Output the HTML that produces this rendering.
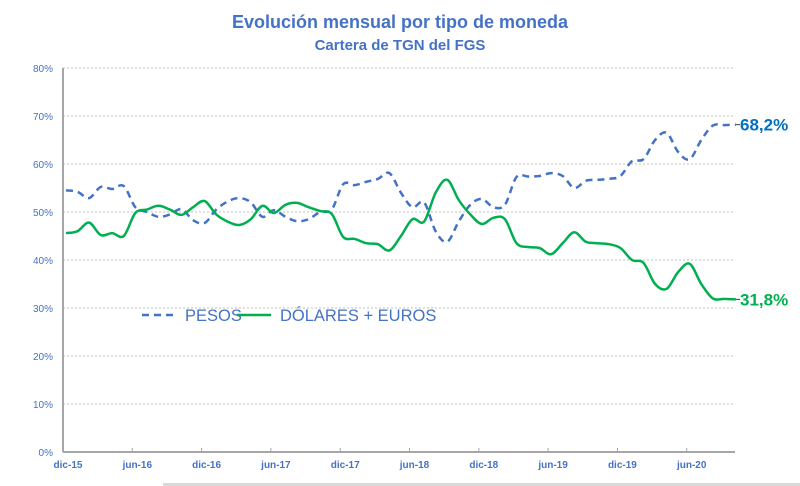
<!DOCTYPE html>
<html><head><meta charset="utf-8"><style>
body{margin:0;background:#fff;}
svg{display:block;font-family:"Liberation Sans",Arial,sans-serif;}
</style></head><body>
<svg id="chart" width="800" height="486">
<text x="400" y="28" text-anchor="middle" font-size="18" font-weight="bold" fill="#4472c4">Evolución mensual por tipo de moneda</text>
<text x="400" y="50" text-anchor="middle" font-size="15" font-weight="bold" fill="#4472c4">Cartera de TGN del FGS</text>
<g id="grid"></g>
<g id="axes"></g>
<g id="series"></g>
<g>
<line x1="142" y1="315" x2="176" y2="315" stroke="#4472c4" stroke-width="2.5" stroke-dasharray="7,5"/>
<text x="185" y="321" font-size="16.5" fill="#4472c4">PESOS</text>
<line x1="237" y1="315" x2="271" y2="315" stroke="#00b050" stroke-width="2.5"/>
<text x="280" y="321" font-size="16.5" fill="#4472c4">DÓLARES + EUROS</text>
</g>
<rect x="163" y="483" width="637" height="3" fill="#d9d9d9"/>
</svg>
<script>
const tickLabels=["dic-15","jun-16","dic-16","jun-17","dic-17","jun-18","dic-18","jun-19","dic-19","jun-20"];
const yTicks=[0,10,20,30,40,50,60,70,80];
const pesos=[54.5,54.2,52.9,55.2,54.8,55.4,51,50,49,49.5,50.6,48.3,47.7,50.5,52.2,52.9,52,49,50.4,49,48.1,48.5,50,50.5,55.8,55.6,56.3,56.9,58.1,54,51,52,46,43.8,48,51.5,52.7,51,51.5,57.3,57.4,57.5,58.1,57.5,55,56.5,56.7,56.9,57.5,60.6,61,65,66.5,62.5,61,65,68,68.1,68.2];
const dolares=[45.6,46,47.8,45.2,45.6,45,49.8,50.5,51.3,50.5,49.4,51,52.3,49.5,48,47.3,48.5,51.3,49.8,51.5,51.9,51,50.2,49.6,44.8,44.4,43.5,43.3,42,45,48.5,48,54,56.7,52.5,49.5,47.5,48.8,48.5,43.5,42.7,42.5,41.2,43.5,45.8,43.8,43.5,43.3,42.5,40,39.4,35,34,37.5,39.2,35,32,31.9,31.8];
const finalLabels=["68,2%","31,8%"];
const NS="http://www.w3.org/2000/svg";
const X0=63,MW=11.55,Y0=452,YS=4.8;
const xs=i=>X0+3+i*MW;
const ys=v=>Y0-v*YS;
function mk(t,a,p){const e=document.createElementNS(NS,t);for(const k in a)e.setAttribute(k,a[k]);p.appendChild(e);return e;}
const grid=document.getElementById('grid'),axes=document.getElementById('axes'),ser=document.getElementById('series');
yTicks.forEach(v=>{
 if(v>0){const l=mk('line',{x1:X0,x2:735,y1:ys(v),y2:ys(v),stroke:'#bfbfbf','stroke-width':1,'stroke-dasharray':'2,2'},grid);
 
 }
 const t=mk('text',{x:53,y:ys(v)+4,'text-anchor':'end','font-size':10,fill:'#4472c4'},axes);
 t.textContent=v+'%';
 
 
});
const ya=mk('line',{x1:X0,x2:X0,y1:ys(80),y2:Y0,stroke:'#a6a6a6','stroke-width':2},axes);


const xa=mk('line',{x1:X0,x2:735,y1:Y0,y2:Y0,stroke:'#a6a6a6','stroke-width':2},axes);


tickLabels.forEach((s,k)=>{
 const x=X0+k*6*MW;
 const tk=mk('line',{x1:x,x2:x,y1:Y0,y2:Y0-4,stroke:'#a6a6a6','stroke-width':1},axes);
 
 
 const t=mk('text',{x:x+5,y:468,'text-anchor':'middle','font-size':10,'font-weight':'bold',fill:'#4472c4'},axes);
 t.textContent=s;
 
 
});
function smooth(vals){
 const p=vals.map((v,i)=>[xs(i),ys(v)]);let d='M'+p[0][0]+','+p[0][1];
 for(let i=0;i<p.length-1;i++){const p0=p[i-1]||p[i],p1=p[i],p2=p[i+1],p3=p[i+2]||p2;
 const c1=[p1[0]+(p2[0]-p0[0])/6,p1[1]+(p2[1]-p0[1])/6],c2=[p2[0]-(p3[0]-p1[0])/6,p2[1]-(p3[1]-p1[1])/6];
 d+=' C'+c1[0].toFixed(1)+','+c1[1].toFixed(1)+' '+c2[0].toFixed(1)+','+c2[1].toFixed(1)+' '+p2[0].toFixed(1)+','+p2[1].toFixed(1);}
 return d;}
const lp=mk('path',{d:smooth(pesos),fill:'none',stroke:'#4472c4','stroke-width':2.5,'stroke-dasharray':'7,5'},ser);


const ld=mk('path',{d:smooth(dolares),fill:'none',stroke:'#00b050','stroke-width':2.5},ser);


[[pesos,'#0070c0','pesos-final-label'],[dolares,'#00b050','dolares-final-label']].forEach((a,k)=>{
 const v=a[0][a[0].length-1],y=ys(v),xe=xs(a[0].length-1);
 const c=mk('line',{x1:xe,x2:740,y1:y,y2:y,stroke:'#404040','stroke-width':1},ser);
 
 
 const t=mk('text',{x:740,y:y+6,'font-size':17,'font-weight':'bold',fill:a[1]},ser);
 t.textContent=finalLabels[k];
 
 
});
</script>
</body></html>
